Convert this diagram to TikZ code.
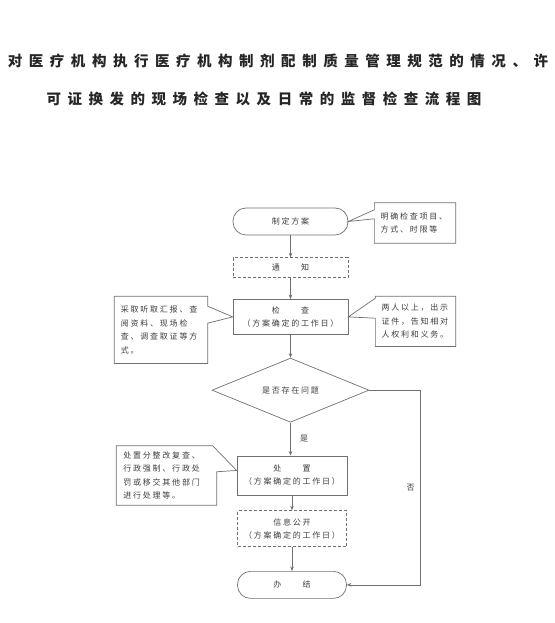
\documentclass[tikz,border=0pt]{standalone}
\usepackage{fontspec}
\usepackage{tikz}
\usetikzlibrary{arrows.meta,positioning,shapes.geometric,calc}
\newfontfamily\cjk[LetterSpace=22]{Noto Sans CJK SC}
\newfontfamily\cjktitle[LetterSpace=45]{Noto Sans CJK SC}
\definecolor{FlowLine}{HTML}{707070}
\definecolor{FlowText}{HTML}{3C3C3C}
\tikzset{
  flowbox/.style={draw=FlowLine,line width=0.7pt,align=center,inner sep=2pt,text=FlowText,font=\cjk\fontsize{8}{13}\selectfont,minimum width=115pt},
  roundbox/.style={flowbox,rounded corners=13pt,minimum height=27pt},
  dashbox/.style={flowbox,dashed,dash pattern=on 3pt off 2pt},
  askbox/.style={flowbox,diamond,inner sep=0pt,minimum width=157pt,minimum height=37pt},
  notebox/.style={align=left,inner sep=0pt,text=FlowText,font=\cjk\fontsize{8}{13.5}\selectfont},
  noteline/.style={draw=FlowLine,line width=0.7pt,line join=miter},
  flowarrow/.style={-{Stealth[length=4.5pt,width=3.6pt]},line width=0.7pt,draw=FlowLine},
  titletext/.style={font=\cjktitle\bfseries\fontsize{14.5}{17}\selectfont,text=black!85}
}
\begin{document}
\begin{tikzpicture}[x=1pt,y=1pt]
  \useasboundingbox (0,0) rectangle (554,623);
  \node[titletext] (title1) at (278,562) {对医疗机构执行医疗机构制剂配制质量管理规范的情况、许};
  \node[titletext] (title2) at (264,524) {可证换发的现场检查以及日常的监督检查流程图};

  % main column
  \node[roundbox] (plan) at (290.5,401.5) {制定方案};
  \node[dashbox,minimum height=20pt,below=22pt of plan] (notice) {通　　知};
  \node[flowbox,minimum height=35pt,below=21pt of notice] (check) {检　　查\\（方案确定的工作日）};
  \node[askbox,below=23pt of check] (ask) {是否存在问题};
  \node[flowbox,minimum width=110pt,minimum height=39pt,below=33pt of ask,xshift=1.5pt] (dispose) {处　　置\\（方案确定的工作日）};
  \node[dashbox,minimum width=109pt,minimum height=36pt,below=15pt of dispose] (publish) {信息公开\\（方案确定的工作日）};
  \node[roundbox,minimum width=109pt,below=24pt of publish] (finish) {办　　结};

  \draw[flowarrow] (plan.south) -- (plan.south |- notice.north);
  \draw[flowarrow] (notice.south) -- (notice.south |- check.north);
  \draw[flowarrow] (check.south) -- (check.south |- ask.north);
  \draw[flowarrow] (ask.south) -- node[right,xshift=6pt,text=FlowText,font=\cjk\fontsize{8}{10}\selectfont]{是} (ask.south |- dispose.north);
  \draw[flowarrow] (dispose.south) -- (dispose.south |- publish.north);
  \draw[flowarrow] (publish.south) -- (publish.south |- finish.north);
  \draw[flowarrow] (ask.east) -- ++(51,0) |- node[pos=0.25,left,xshift=-2pt,text=FlowText,font=\cjk\fontsize{8}{10}\selectfont]{否} (finish.east);

  % notes
  \node[notebox,minimum width=81pt,minimum height=40pt,text width=69pt,right=26pt of plan,yshift=-1.5pt] (noteA) {明确检查项目、\\方式、时限等};
  \node[notebox,minimum width=93pt,minimum height=67pt,text width=80pt,left=25pt of check,yshift=-13pt] (noteB) {采取听取汇报、查\\阅资料、现场检\\查、调查取证等方\\式。};
  \node[notebox,minimum width=80pt,minimum height=50pt,text width=68pt,right=27pt of check,yshift=-4.5pt] (noteC) {两人以上，出示\\证件，告知相对\\人权利和义务。};
  \node[notebox,minimum width=100pt,minimum height=59pt,text width=86pt,left=20pt of dispose] (noteD) {处置分整改复查、\\行政强制、行政处\\罚或移交其他部门\\进行处理等。};

  \draw[noteline] (noteA.north west) -- (noteA.north east) -- (noteA.south east) -- (noteA.south west)
    -- ($(noteA.north west)+(0,-16)$) -- (plan.east) -- ($(noteA.north west)+(0,-7)$) -- cycle;
  \draw[noteline] (noteB.north west) -- (noteB.north east) -- ($(noteB.north east)+(0,-10)$)
    -- (check.west) -- ($(noteB.north east)+(0,-27)$) -- (noteB.south east) -- (noteB.south west) -- cycle;
  \draw[noteline] (noteC.north west) -- (noteC.north east) -- (noteC.south east) -- (noteC.south west)
    -- ($(noteC.north west)+(0,-22)$) -- (check.east) -- ($(noteC.north west)+(0,-2)$) -- cycle;
  \draw[noteline] (noteD.north west) -- ($(noteD.north east)+(-4,0)$) -- ([yshift=5pt]dispose.west)
    -- ($(noteD.north east)+(0,-26)$) -- (noteD.south east) -- (noteD.south west) -- cycle;
\end{tikzpicture}
\end{document}
